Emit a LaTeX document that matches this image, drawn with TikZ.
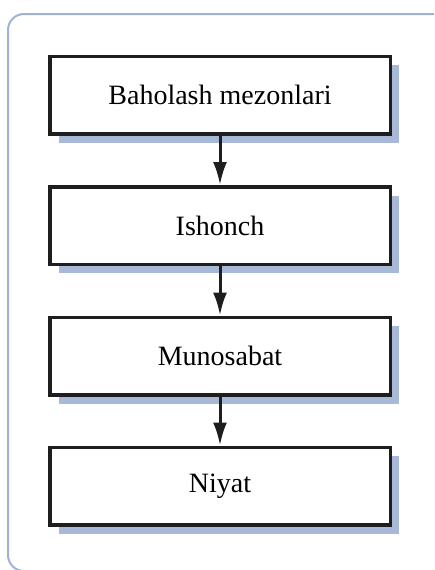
\documentclass[tikz,border=0pt]{standalone}
\usepackage{fontspec}
\setmainfont{Liberation Serif}
\usetikzlibrary{shadows,arrows.meta}
\definecolor{framecol}{HTML}{9FB3D6}
\definecolor{shadowcol}{HTML}{A8B9D7}
\definecolor{ink}{HTML}{1E1E1E}
\tikzset{
  stepbox/.style={draw=ink, line width=3.5pt, fill=white,
    minimum width=340.5pt, minimum height=77.5pt, inner sep=0pt,
    font=\fontsize{28}{33}\selectfont,
    drop shadow={shadow xshift=9pt, shadow yshift=-9pt, fill=shadowcol, opacity=1}},
  flow/.style={draw=ink, line width=3pt, -{Latex[length=23pt,width=14pt]}}
}
\begin{document}
\begin{tikzpicture}[x=1pt,y=-1pt]
\useasboundingbox (0,0) rectangle (434,570);
\begin{scope}
\clip (0,0) rectangle (434,570);
\draw[framecol, line width=2pt, rounded corners=16pt] (8,14) rectangle (448,571);
\end{scope}
\node[stepbox] (a) at (220,95) {Baholash mezonlari};
\node[stepbox] (b) at (220,225.5) {Ishonch};
\node[stepbox] (c) at (220,356) {Munosabat};
\node[stepbox] (d) at (220,486) {Niyat};
\draw[flow] (a) -- (b);
\draw[flow] (b) -- (c);
\draw[flow] (c) -- (d);
\end{tikzpicture}
\end{document}
